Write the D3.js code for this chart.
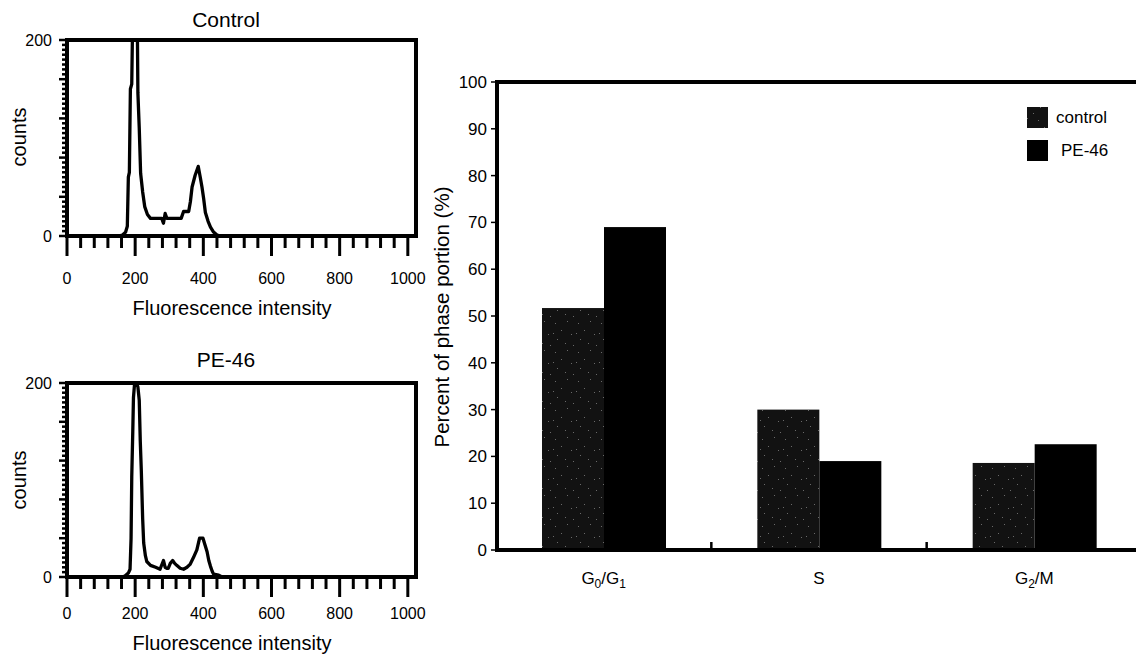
<!DOCTYPE html>
<html><head><meta charset="utf-8">
<script src="https://cdn.jsdelivr.net/npm/d3@7"></script>
<style>
html,body{margin:0;padding:0;background:#fff;}
text{font-family:"Liberation Sans",Arial,sans-serif;fill:#000;}
</style></head>
<body><svg id="c" width="1136" height="655"></svg>
<script>
// ---- data ----
const controlHist = [[0,0],[150,0],[163,1],[172,4],[177,10],[180,60],[183,65],[186,150],[190,155],[193,230],[206,230],[208,146],[212,110],[216,64],[222,45],[228,30],[236,22],[245,18],[278,18],[283,13],[288,23],[293,18],[335,18],[342,25],[357,25],[362,35],[367,50],[376,62],[385,71],[391,60],[396,50],[401,38],[406,24],[414,15],[421,9],[430,4],[440,1],[452,0],[1024,0]];
const pe46Hist = [[0,0],[160,0],[170,1],[180,4],[185,8],[188,40],[190,103],[193,150],[195,185],[198,198],[203,200],[208,196],[212,182],[215,140],[218,110],[222,60],[225,35],[230,22],[234,16],[245,12],[260,10],[273,8],[283,17],[288,10],[292,9],[297,9],[303,14],[310,17],[316,14],[322,12],[332,9],[342,8],[352,10],[361,13],[371,20],[381,28],[389,40],[399,40],[405,33],[411,26],[416,17],[421,11],[426,6],[430,3],[445,2],[455,0],[1024,0]];
const histTitles = ["Control","PE-46"];
const histXTicks = [0,200,400,600,800,1000];
const histYTicks = [0,200];
const phases = ["G0/G1","S","G2/M"];
const seriesNames = ["control","PE-46"];
const controlPct = [51.7,30.0,18.6];
const pe46Pct = [69.0,19.0,22.6];
const pctTicks = [0,10,20,30,40,50,60,70,80,90,100];

const svg = d3.select("#c");
const defs = svg.append("defs");
// speckled dark fill for control bars
const pat = defs.append("pattern").attr("id","speck").attr("patternUnits","userSpaceOnUse").attr("width",23).attr("height",29);
pat.append("rect").attr("width",23).attr("height",29).attr("fill","#121212");
[[3,4],[15,2],[9,11],[19,15],[5,20],[13,24],[21,26],[1,14]].forEach(p=>{
  pat.append("rect").attr("x",p[0]).attr("y",p[1]).attr("width",1).attr("height",1).attr("fill","#6a6a6a");
});

// ---- histograms ----
const panels = [
  {data:controlHist, title:histTitles[0], top:40, bottom:236, titleY:20, tickY:278, labY:308, cntY:137},
  {data:pe46Hist, title:histTitles[1], top:383, bottom:577, titleY:360, tickY:613, labY:643, cntY:480}
];
panels.forEach((p,i)=>{
  const x = d3.scaleLinear().domain([0,1024]).range([67,416]);
  const y = d3.scaleLinear().domain([0,200]).range([p.bottom,p.top]);
  const g = svg.append("g");
  const cid = "clip"+i;
  defs.append("clipPath").attr("id",cid).append("rect")
    .attr("x",67).attr("y",p.top).attr("width",349).attr("height",p.bottom-p.top);
  g.append("path").datum(p.data).attr("clip-path",`url(#${cid})`)
    .attr("fill","none").attr("stroke","#000").attr("stroke-width",3.3).attr("stroke-linejoin","round")
    .attr("d",d3.line().x(d=>x(d[0])).y(d=>y(d[1])));
  // frame
  g.append("rect").attr("x",67).attr("y",p.top).attr("width",349).attr("height",p.bottom-p.top)
    .attr("fill","none").attr("stroke","#000").attr("stroke-width",4);
  // x ticks
  const xt = d3.range(0,1001,40);
  g.selectAll(null).data(xt).enter().append("line")
    .attr("x1",d=>x(d)).attr("x2",d=>x(d)).attr("y1",p.bottom)
    .attr("y2",d=>p.bottom+(d%200===0?20:12)).attr("stroke","#000").attr("stroke-width",3);
  g.selectAll(null).data(histXTicks).enter().append("text")
    .attr("x",d=>x(d)).attr("y",p.tickY).attr("dy","0.35em").attr("text-anchor","middle")
    .attr("font-size",16).text(d=>d);
  // y ticks
  const yt = d3.range(0,201,5);
  g.selectAll(null).data(yt).enter().append("line")
    .attr("y1",d=>y(d)).attr("y2",d=>y(d)).attr("x1",67)
    .attr("x2",d=>67-(d%40===0?8:5)).attr("stroke","#000").attr("stroke-width",2.5);
  g.selectAll(null).data(histYTicks).enter().append("text")
    .attr("x",52).attr("y",d=>y(d)).attr("dy","0.35em").attr("text-anchor","end")
    .attr("font-size",16).text(d=>d);
  g.append("text").attr("x",226).attr("y",p.titleY).attr("dy","0.35em").attr("text-anchor","middle")
    .attr("font-size",21).text(p.title);
  g.append("text").attr("x",232).attr("y",p.labY).attr("dy","0.35em").attr("text-anchor","middle")
    .attr("font-size",20).text("Fluorescence intensity");
  g.append("text").attr("transform",`translate(19,${p.cntY}) rotate(-90)`).attr("dy","0.35em")
    .attr("text-anchor","middle").attr("font-size",20).text("counts");
});

// ---- bar chart ----
const bx = d3.scaleBand().domain(phases).range([496,1142]);
const bs = d3.scaleBand().domain(seriesNames).range([46,170]);
const by = d3.scaleLinear().domain([0,100]).range([550,82]);
const bg = svg.append("g");
const fills = {"control":"url(#speck)","PE-46":"#000"};
const rows = phases.map((ph,i)=>({ph, vals:[{s:"control",v:controlPct[i]},{s:"PE-46",v:pe46Pct[i]}]}));
rows.forEach(r=>{
  bg.selectAll(null).data(r.vals).enter().append("rect")
    .attr("x",d=>bx(r.ph)+bs(d.s)).attr("width",bs.bandwidth())
    .attr("y",d=>by(d.v)).attr("height",d=>by(0)-by(d.v)).attr("fill",d=>fills[d.s]);
});
// axes lines
bg.append("line").attr("x1",497).attr("x2",497).attr("y1",80).attr("y2",552).attr("stroke","#000").attr("stroke-width",4);
bg.append("line").attr("x1",495).attr("x2",1136).attr("y1",82).attr("y2",82).attr("stroke","#000").attr("stroke-width",4);
bg.append("line").attr("x1",495).attr("x2",1136).attr("y1",550).attr("y2",550).attr("stroke","#000").attr("stroke-width",4);
// y ticks
bg.selectAll(null).data(pctTicks).enter().append("line")
  .attr("x1",495).attr("x2",491).attr("y1",d=>by(d)).attr("y2",d=>by(d)).attr("stroke","#000").attr("stroke-width",1.5);
bg.selectAll(null).data(pctTicks).enter().append("text")
  .attr("x",487).attr("y",d=>by(d)).attr("dy","0.35em").attr("text-anchor","end")
  .attr("font-size",17).text(d=>d);
// x category ticks (between groups)
bg.selectAll(null).data(phases.slice(1)).enter().append("line")
  .attr("x1",d=>bx(d)).attr("x2",d=>bx(d)).attr("y1",550).attr("y2",542).attr("stroke","#000").attr("stroke-width",2.5);
// category labels with subscripts
const catParts = {"G0/G1":[["G",0],["0",1],["/G",0],["1",1]],"S":[["S",0]],"G2/M":[["G",0],["2",1],["/M",0]]};
phases.forEach(ph=>{
  const t = bg.append("text").attr("x",bx(ph)+bx.bandwidth()/2).attr("y",584).attr("text-anchor","middle").attr("font-size",17);
  catParts[ph].forEach(([s,sub])=>{
    const ts = t.append("tspan").text(s);
    if(sub) ts.attr("font-size",12).attr("dy",4); 
    else if(t.selectAll("tspan").size()>1) ts.attr("dy",-4);
  });
});
// legend
const lg = bg.append("g");
seriesNames.forEach((s,i)=>{
  const yy = 107 + i*33;
  lg.append("rect").attr("x",1027).attr("y",yy).attr("width",21).attr("height",21).attr("fill",fills[s]);
  lg.append("text").attr("x",i===0?1056:1061).attr("y",yy+10.5).attr("dy","0.35em").attr("font-size",17).text(s);
});
// y label
bg.append("text").attr("transform","translate(442,317) rotate(-90)").attr("dy","0.35em")
  .attr("text-anchor","middle").attr("font-size",20.5).text("Percent of phase portion (%)");
</script>
</body></html>
